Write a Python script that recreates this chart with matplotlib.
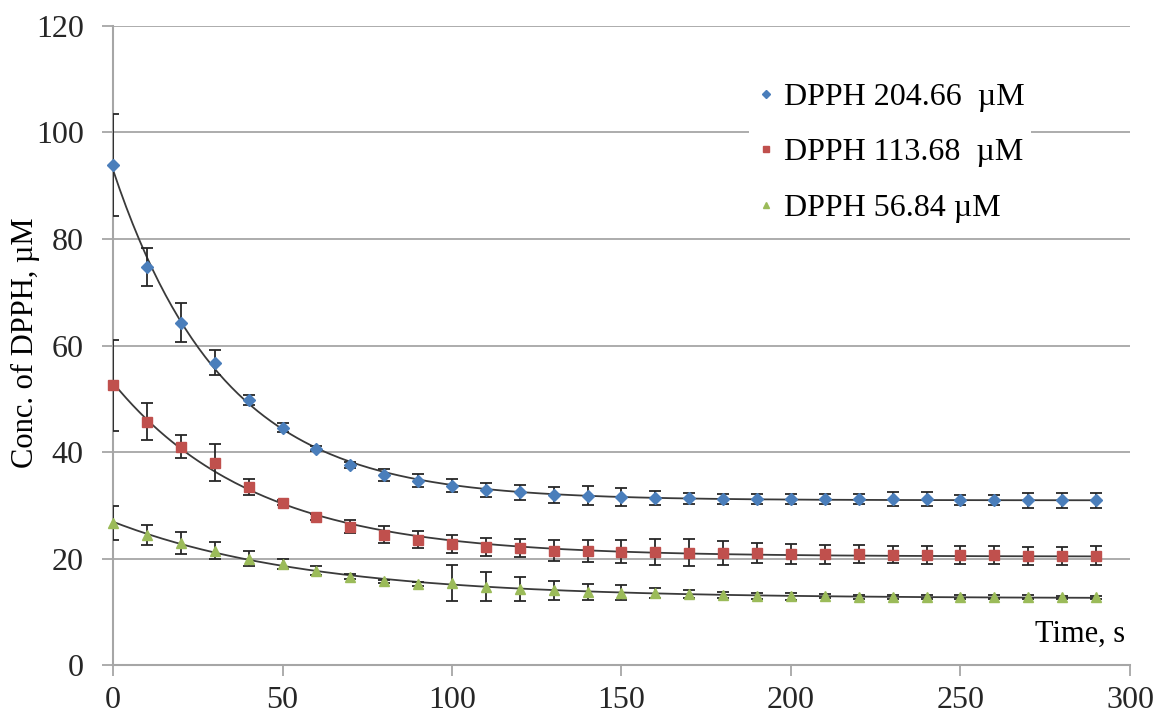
import numpy as np
import matplotlib
matplotlib.use("Agg")
import matplotlib.pyplot as plt

plt.rcParams['font.family'] = ['Liberation Serif', 'DejaVu Serif']

time_s = list(range(0, 300, 10))

labels = ["DPPH 204.66  \u00b5M", "DPPH 113.68  \u00b5M", "DPPH 56.84 \u00b5M"]

conc_high = [93.9, 74.7, 64.3, 56.8, 49.8, 44.6, 40.6, 37.6, 35.7, 34.6,
             33.7, 32.9, 32.4, 32.0, 31.8, 31.6, 31.4, 31.3, 31.2, 31.2,
             31.2, 31.2, 31.2, 31.1, 31.1, 31.0, 31.0, 30.9, 30.9, 30.9]
err_high = [9.5, 3.6, 3.6, 2.3, 0.9, 0.9, 0.5, 0.6, 1.2, 1.25,
            1.25, 1.3, 1.35, 1.5, 1.8, 1.65, 1.35, 1.0, 1.0, 0.9,
            0.9, 0.9, 0.9, 1.3, 1.3, 1.0, 1.0, 1.35, 1.35, 1.35]

conc_mid = [52.5, 45.7, 41.0, 38.0, 33.5, 30.5, 27.8, 26.0, 24.5, 23.5,
            22.8, 22.2, 21.9, 21.5, 21.4, 21.3, 21.2, 21.1, 21.0, 21.0,
            20.9, 20.8, 20.8, 20.7, 20.6, 20.6, 20.6, 20.5, 20.5, 20.5]
err_mid = [8.6, 3.5, 2.1, 3.5, 1.5, 0.5, 0.5, 1.2, 1.6, 1.6,
           1.7, 1.7, 1.7, 2.0, 2.0, 2.2, 2.4, 2.5, 2.2, 1.9,
           1.9, 1.8, 1.7, 1.6, 1.7, 1.7, 1.7, 1.7, 1.7, 1.8]

conc_low = [26.7, 24.4, 22.9, 21.5, 20.0, 19.0, 17.7, 16.6, 15.7, 15.2,
            15.4, 14.7, 14.3, 14.0, 13.7, 13.6, 13.5, 13.3, 13.1, 13.0,
            12.9, 12.9, 12.8, 12.8, 12.8, 12.8, 12.8, 12.8, 12.7, 12.7]
err_low = [3.2, 1.9, 2.0, 1.6, 1.5, 1.0, 0.8, 0.5, 0.3, 0.3,
           3.4, 2.75, 2.3, 1.8, 1.5, 1.35, 1.0, 0.8, 0.6, 0.6,
           0.6, 0.4, 0.4, 0.4, 0.4, 0.4, 0.4, 0.4, 0.3, 0.3]

colors = ["#4a7ebb", "#c0504d", "#9bbb59"]
markers = ["D", "s", "^"]
msizes = [6.5, 7, 7.5]


def fit_decay(t, y):
    # y = a + b*exp(-k t), linear least squares for a, b over a grid of k
    t = np.asarray(t, float)
    y = np.asarray(y, float)
    best = None
    for k in np.linspace(0.005, 0.1, 400):
        A = np.column_stack([np.ones_like(t), np.exp(-k * t)])
        coef, *_ = np.linalg.lstsq(A, y, rcond=None)
        res = np.sum((A @ coef - y) ** 2)
        if best is None or res < best[0]:
            best = (res, k, coef)
    _, k, (a, b) = best
    tt = np.linspace(t.min(), t.max(), 300)
    return tt, a + b * np.exp(-k * tt)


fig = plt.figure(figsize=(11.58, 7.18), dpi=100)
ax = fig.add_axes([0.0976, 0.0738, 0.8782, 0.8900])

grid_c = "#a6a6a6"
series = [(conc_high, err_high), (conc_mid, err_mid), (conc_low, err_low)]
for (y, e), c, m, ms, lab in zip(series, colors, markers, msizes, labels):
    tt, yy = fit_decay(time_s, y)
    ax.plot(tt, yy, color="#3a3a3a", lw=1.3, zorder=3)
    ax.errorbar(time_s, y, yerr=e, fmt="none", ecolor="#262626",
                elinewidth=1.3, capsize=4, capthick=1.3, zorder=4)
    ax.plot(time_s, y, ls="none", marker=m, ms=ms, color=c, mec=c,
            label=lab, zorder=5, clip_on=False)

ax.set_xlim(0, 300)
ax.set_ylim(0, 120)
ax.set_xticks(np.arange(0, 301, 50))
ax.set_yticks(np.arange(0, 121, 20))
ax.yaxis.grid(True, color=grid_c, lw=1.3)
ax.set_axisbelow(True)

for side in ["top", "right"]:
    ax.spines[side].set_visible(False)
for side in ["left", "bottom"]:
    ax.spines[side].set_color(grid_c)
    ax.spines[side].set_linewidth(1.5)

ax.tick_params(axis="both", direction="out", length=8, width=1.3,
               color=grid_c, labelsize=23, labelcolor="#262626")
ax.tick_params(axis="y", pad=13)
ax.tick_params(axis="x", pad=7)

ax.set_ylabel("Conc. of DPPH, \u00b5M", fontsize=22)
ax.yaxis.set_label_coords(-0.072, 0.505)
ax.text(0.995, 0.025, "Time, s", transform=ax.transAxes, ha="right",
        va="bottom", fontsize=22)

leg = ax.legend(loc="upper left", bbox_to_anchor=(0.61, 0.9475),
                fontsize=23, markerscale=0.6, handlelength=0.6,
                handletextpad=0.25, labelspacing=0.82, borderpad=0.22,
                borderaxespad=0.5, frameon=True, fancybox=False,
                framealpha=1.0)
leg.get_frame().set_edgecolor("none")
leg.get_frame().set_facecolor("white")

fig.savefig("out.png", dpi=100)
